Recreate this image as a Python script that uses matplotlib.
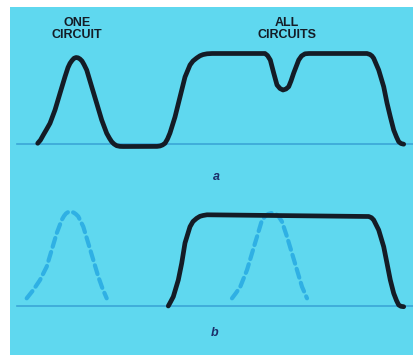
import matplotlib
matplotlib.use("Agg")
import matplotlib.pyplot as plt

# ---- data (x = frequency axis, y = screen row) ----
# panel a: one circuit response
a_one_x = [37.7, 40.5, 43.3, 46.5, 50, 55, 60, 65, 68, 70, 72, 74, 76, 78, 80, 82, 84, 86.7,
           91.7, 96.7, 101.7, 106.7, 109.5, 111.7, 114, 116.7, 120, 123.3]
a_one_y = [143.3, 140, 135, 129.5, 123.3, 110, 93.3, 76.7, 67.5, 63.3, 60.5, 58.3, 57.5, 57.8,
           59, 61, 64.5, 70, 86.7, 103.3, 120, 133.3, 138.3, 141.7, 144, 145.7, 146.4, 146.5]
# panel a: all circuits response (continues from the flat part)
a_all_x = [157, 160, 162.5, 165, 167.5, 170, 175, 180, 185, 190, 193, 196.7, 200, 203, 207, 212,
           265, 267.5, 270.3, 273.7, 277, 280, 283, 286, 288.7, 291, 293.7, 298.7, 301.5, 305, 309,
           367, 370, 372, 373.7, 378.7, 383.7, 387, 390.3, 393.7, 396.5, 398.7, 401, 403.7]
a_all_y = [146.4, 146, 145, 143.3, 139, 133, 117, 97, 77, 65, 61, 58, 55.8, 54.6, 53.8, 53.5,
           53.5, 55.5, 60, 73, 85, 88.5, 90, 89, 86.7, 81, 73, 60, 56, 53.8, 53.5,
           53.5, 54.5, 56, 58.3, 70, 86.7, 103, 116.7, 130, 137, 141.7, 143.5, 144.2]
# panel b: combined passband
b_all_x = [168.3, 170.5, 173.3, 178.3, 181.7, 185, 190, 193, 196.7, 200, 203, 207,
           368.7, 371.5, 373.7, 378.7, 383.7, 387, 390.3, 393.7, 396.5, 398.7, 401, 403.7]
b_all_y = [306, 302, 296.7, 280, 263.3, 243, 226.7, 221.5, 218.3, 216.3, 215.5, 214.8,
           216.5, 217.7, 220, 230, 246.7, 263.3, 280, 293.3, 300.5, 305, 306.3, 306.7]
# panel b: single circuit responses (dashed)
b_one_x = [26.7, 33.3, 40, 46.7, 51.7, 56.7, 61.7, 64, 66, 68, 70, 72, 74, 76, 78.3,
           83.3, 88.3, 93.3, 98.3, 102.5, 106.7]
b_one_y = [298.3, 290, 280, 266.7, 250, 233.3, 220, 216, 213.5, 212.2, 211.7, 211.9, 212.8,
           214.2, 216.5, 226.7, 243.3, 260, 276.7, 288.5, 298.3]
b_two_x = [232, 236, 240.3, 247, 252, 257, 262, 265, 268, 272, 276, 279, 282, 287, 292, 297,
           302, 307]
b_two_y = [298.3, 293, 286.7, 270, 253.3, 236.7, 220, 216.5, 214, 213, 214, 217, 221.7, 236.7,
           253.3, 270, 286.7, 298.3]

labels_top = ["ONE\nCIRCUIT", "ALL\nCIRCUITS"]
panel_labels = ["a", "b"]

BG = "#5fd8ef"
BASE = "#3aa6d6"
DASH = "#2fb0e4"
INK = "#141c26"

fig = plt.figure(figsize=(4.14, 3.55), dpi=100)
fig.patch.set_facecolor("white")
ax = fig.add_axes([10 / 414, 0, 404 / 414, 348 / 355])
ax.set_facecolor(BG)
ax.set_xlim(10, 414)
ax.set_ylim(355, 7)
ax.axis("off")
ax.add_patch(plt.Rectangle((10, 7), 404, 348, facecolor=BG, edgecolor="none", zorder=0))

# baselines
ax.plot([17, 414], [144, 144], color=BASE, lw=1.2, zorder=1)
ax.plot([17, 414], [306, 306], color=BASE, lw=1.2, zorder=1)

# panel a curve
ax.plot(a_one_x + a_all_x, a_one_y + a_all_y, color=INK, lw=3.4,
        solid_capstyle="round", solid_joinstyle="round", zorder=3)

# panel b dashed single-circuit curves
for xs, ys in [(b_one_x, b_one_y), (b_two_x, b_two_y)]:
    ax.plot(xs, ys, color=DASH, lw=3.0, dashes=(2.2, 1.3), dash_capstyle="round",
            dash_joinstyle="round", zorder=2)
# panel b combined
ax.plot(b_all_x, b_all_y, color=INK, lw=3.4, solid_capstyle="round",
        solid_joinstyle="round", zorder=3)

# texts
ax.text(77, 29, labels_top[0], ha="center", va="center", fontsize=9, fontweight="bold",
        family="Liberation Sans", color=INK, linespacing=1.1)
ax.text(287, 29, labels_top[1], ha="center", va="center", fontsize=9, fontweight="bold",
        family="Liberation Sans", color=INK, linespacing=1.1)
ax.text(216, 177, panel_labels[0], ha="center", va="center", fontsize=9, fontweight="bold",
        style="italic", family="Liberation Sans", color="#1c2f6a")
ax.text(215, 333, panel_labels[1], ha="center", va="center", fontsize=9, fontweight="bold",
        style="italic", family="Liberation Sans", color="#1c2f6a")

fig.savefig("out.png", dpi=100, facecolor="white")
